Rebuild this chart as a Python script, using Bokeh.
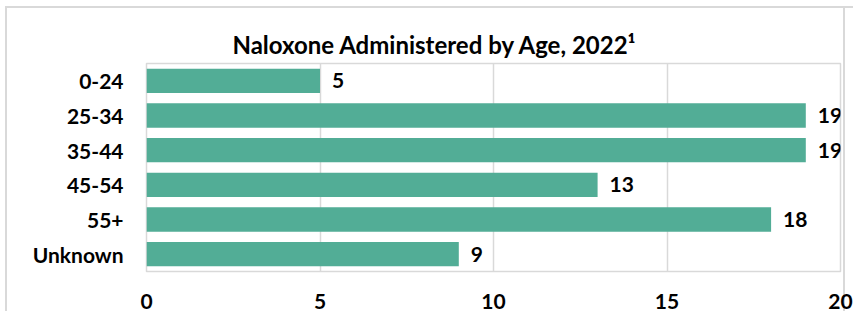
from bokeh.plotting import figure
from bokeh.models import ColumnDataSource, LabelSet, FixedTicker
from bokeh.core.properties import value
from bokeh.embed import file_html
from bokeh.resources import INLINE

categories = ["0-24", "25-34", "35-44", "45-54", "55+", "Unknown"]
values = [5, 19, 19, 13, 18, 9]
x_ticks = [0, 5, 10, 15, 20]
title_text = "Naloxone Administered by Age, 2022\u00b9"

FONT = "Lato"
BAR = "#52ad96"
GRID = "#d9d9d9"

src = ColumnDataSource(dict(cat=categories, val=values, lab=[str(v) for v in values]))

p = figure(y_range=list(reversed(categories)), x_range=(0, 20),
           frame_width=694, frame_height=208, output_backend="svg", toolbar_location=None,
           min_border_left=146, min_border_right=13, min_border_top=63, min_border_bottom=0)

p.hbar(y="cat", right="val", left=0, height=0.70, source=src,
       fill_color=BAR, line_color=None)

labels = LabelSet(x="val", y="cat", text="lab", source=src, x_offset=12,
                  text_baseline="middle", text_align="left",
                  text_font=value(FONT), text_font_style="bold", text_font_size="21px",
                  text_color="#000000")
p.add_layout(labels)

p.title.text = title_text
p.title.align = "left"
p.title.offset = 86
p.title.text_font = FONT
p.title.text_font_size = "24px"
p.title.text_font_style = "bold"
p.title.text_color = "#000000"

p.xaxis.ticker = FixedTicker(ticks=x_ticks)
p.xaxis.axis_line_color = None
p.xaxis.major_tick_line_color = None
p.xaxis.minor_tick_line_color = None
p.xaxis.major_label_text_font = FONT
p.xaxis.major_label_text_font_style = "bold"
p.xaxis.major_label_text_font_size = "21px"
p.xaxis.major_label_text_color = "#000000"
p.xaxis.major_label_standoff = 16

p.yaxis.axis_line_color = None
p.yaxis.major_tick_line_color = None
p.yaxis.minor_tick_line_color = None
p.yaxis.major_label_text_font = FONT
p.yaxis.major_label_text_font_style = "bold"
p.yaxis.major_label_text_font_size = "21px"
p.yaxis.major_label_text_color = "#000000"
p.yaxis.major_label_standoff = 17

p.ygrid.grid_line_color = None
p.xgrid.grid_line_color = GRID
p.xgrid.grid_line_width = 1.5
p.outline_line_color = GRID
p.outline_line_width = 1.5

p.border_fill_color = None
p.background_fill_color = "white"
line = "linear-gradient(#d9d9d9,#d9d9d9)"
p.styles = {
    "background-image": f"{line}, {line}, {line}",
    "background-size": "2px 100%, 100% 2px, 2px 100%",
    "background-position": "5px 6px, 5px 6px, 843px 6px",
    "background-repeat": "no-repeat",
}

open("out.html", "w").write(file_html(p, INLINE))
